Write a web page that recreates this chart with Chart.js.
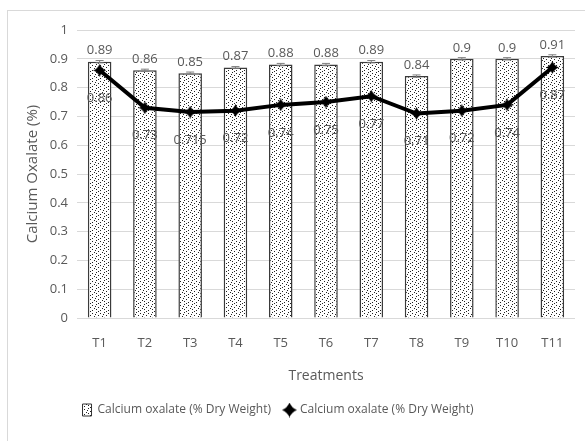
<!DOCTYPE html>
<html>
<head>
<meta charset="utf-8">
<script src="https://cdn.jsdelivr.net/npm/chart.js@4/dist/chart.umd.min.js"></script>
<style>
  html, body { margin: 0; padding: 0; background: #fff; }
  body { width: 585px; height: 441px; position: relative; overflow: hidden; }
  #frame { position: absolute; left: 7px; top: 10px; width: 640px; height: 500px; border: 1px solid #d9d9d9; box-sizing: border-box; }
  #wrap { position: absolute; left: 0; top: 0; width: 585px; height: 441px; }
</style>
</head>
<body>
<div id="frame"></div>
<div id="wrap"><canvas id="chart" width="585" height="441"></canvas></div>
<script>
// Treatments and calcium oxalate measurements
const treatments = ['T1', 'T2', 'T3', 'T4', 'T5', 'T6', 'T7', 'T8', 'T9', 'T10', 'T11'];
const barValues = [0.89, 0.86, 0.85, 0.87, 0.88, 0.88, 0.89, 0.84, 0.9, 0.9, 0.91];
const barErrors = [0.004, 0.004, 0.004, 0.003, 0.004, 0.004, 0.004, 0.004, 0.004, 0.004, 0.004];
const lineValues = [0.86, 0.73, 0.715, 0.72, 0.74, 0.75, 0.77, 0.71, 0.72, 0.74, 0.87];
const yTicks = [0, 0.1, 0.2, 0.3, 0.4, 0.5, 0.6, 0.7, 0.8, 0.9, 1];
const seriesName = 'Calcium oxalate (% Dry Weight)';

const FONT = '"Open Sans", "Noto Sans", sans-serif';
const GREY = '#595959';

// Dotted fill for the bars
function makeDots() {
  const c = document.createElement('canvas');
  c.width = 8; c.height = 8;
  const g = c.getContext('2d');
  g.fillStyle = '#fff';
  g.fillRect(0, 0, 8, 8);
  g.fillStyle = '#222';
  [[0, 0], [4, 1], [2, 3], [6, 4], [0, 5], [4, 6], [7, 2], [2, 7]].forEach(([x, y]) => g.fillRect(x, y, 1, 1));
  return g.createPattern(c, 'repeat');
}
const dots = makeDots();

// Concave four-point marker for the line
function makeStar(size) {
  const c = document.createElement('canvas');
  c.width = size; c.height = size;
  const g = c.getContext('2d');
  const m = size / 2, k = size * 0.14;
  g.fillStyle = '#000';
  g.beginPath();
  g.moveTo(m, 0);
  g.quadraticCurveTo(m + k, m - k, size, m);
  g.quadraticCurveTo(m + k, m + k, m, size);
  g.quadraticCurveTo(m - k, m + k, 0, m);
  g.quadraticCurveTo(m - k, m - k, m, 0);
  g.closePath();
  g.fill();
  return c;
}
const star = makeStar(13);
const legendStar = makeStar(15);

// Error caps and value labels
const annotate = {
  id: 'annotate',
  beforeDraw(chart) {
    // keep the legend row a little left of the full width
    chart.legend.left = 0;
    chart.legend.right = 556;
  },
  afterDatasetsDraw(chart) {
    const ctx = chart.ctx;
    const y = chart.scales.y;
    const bars = chart.getDatasetMeta(0).data;
    ctx.save();
    ctx.strokeStyle = '#7f7f7f';
    ctx.lineWidth = 1;
    bars.forEach((b, i) => {
      const top = y.getPixelForValue(barValues[i] + barErrors[i]);
      const bot = y.getPixelForValue(barValues[i] - barErrors[i]);
      ctx.beginPath();
      ctx.moveTo(b.x, top); ctx.lineTo(b.x, bot);
      ctx.moveTo(b.x - 4, top); ctx.lineTo(b.x + 4, top);
      ctx.moveTo(b.x - 4, bot); ctx.lineTo(b.x + 4, bot);
      ctx.stroke();
    });
    ctx.restore();
  },
  afterDraw(chart) {
    const ctx = chart.ctx;
    const bars = chart.getDatasetMeta(0).data;
    const pts = chart.getDatasetMeta(1).data;
    ctx.save();
    ctx.font = '13px ' + FONT;
    ctx.fillStyle = GREY;
    ctx.textAlign = 'center';
    ctx.textBaseline = 'middle';
    bars.forEach((b, i) => ctx.fillText(String(barValues[i]), b.x, b.y - 11));
    pts.forEach((p, i) => ctx.fillText(String(lineValues[i]), p.x, p.y + 28));
    ctx.restore();
  }
};

new Chart(document.getElementById('chart'), {
  data: {
    labels: treatments,
    datasets: [
      {
        type: 'bar',
        label: seriesName,
        data: barValues,
        backgroundColor: dots,
        borderColor: '#3a3a3a',
        borderWidth: 1.5,
        categoryPercentage: 1,
        barPercentage: 0.52,
        order: 2
      },
      {
        type: 'line',
        label: seriesName,
        data: lineValues,
        borderColor: '#000',
        borderWidth: 4,
        backgroundColor: '#000',
        pointStyle: star,
        pointRadius: 6,
        tension: 0,
        order: 1
      }
    ]
  },
  plugins: [annotate],
  options: {
    responsive: false,
    animation: false,
    layout: { padding: { top: 30, right: 9, left: 0, bottom: 15 } },
    plugins: {
      tooltip: { enabled: false },
      legend: {
        position: 'bottom',
        labels: {
          font: { family: FONT, size: 12 },
          color: GREY,
          usePointStyle: true,
          pointStyleWidth: 9,
          padding: 14,
          generateLabels(chart) {
            return [
              { text: seriesName, fillStyle: dots, strokeStyle: '#333', lineWidth: 1, pointStyle: 'rect', datasetIndex: 0, fontColor: GREY },
              { text: seriesName, fillStyle: '#000', strokeStyle: '#000', lineWidth: 0, pointStyle: legendStar, datasetIndex: 1, fontColor: GREY }
            ];
          }
        }
      }
    },
    scales: {
      x: {
        grid: { display: false },
        border: { display: false },
        afterFit(scale) { scale.height = 72; },
        ticks: { font: { family: FONT, size: 13 }, color: GREY, padding: 9 },
        title: { display: true, text: 'Treatments', font: { family: FONT, size: 14 }, color: GREY, padding: { top: 6, bottom: 6 } }
      },
      y: {
        min: 0,
        max: 1,
        afterBuildTicks(scale) { scale.ticks = yTicks.map(v => ({ value: v })); },
        afterFit(scale) { scale.width = 77; },
        grid: { color: '#d9d9d9', lineWidth: 1, drawTicks: false },
        border: { display: false },
        ticks: { font: { family: FONT, size: 13 }, color: GREY, padding: 9, callback: v => String(v) },
        title: { display: true, text: 'Calcium Oxalate (%)', font: { family: FONT, size: 15 }, color: GREY, padding: { top: 24, bottom: 4 } }
      }
    }
  }
});
</script>
</body>
</html>
